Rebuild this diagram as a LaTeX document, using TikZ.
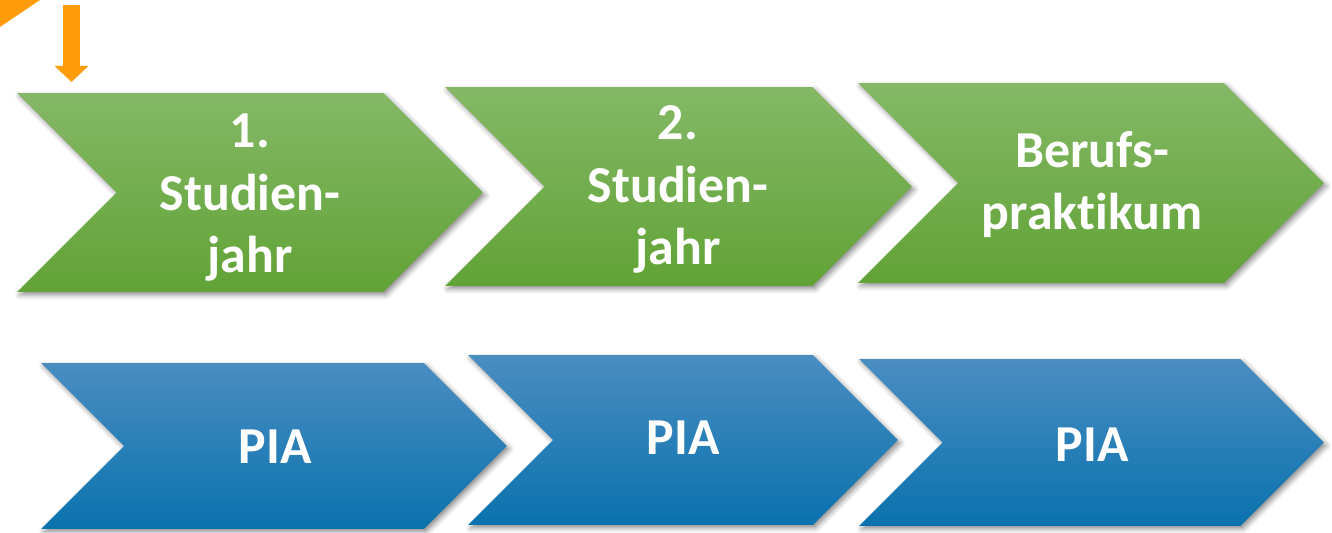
\documentclass[tikz,border=0pt]{standalone}
\usepackage{fontspec}
\setmainfont{Carlito}[Ligatures=NoCommon]
\usepackage{tikz}
\usetikzlibrary{shapes.symbols, arrows.meta, shadows.blur}

\definecolor{gruenOben}{HTML}{84B866}
\definecolor{gruenUnten}{HTML}{61A336}
\definecolor{blauOben}{HTML}{4A8DC1}
\definecolor{blauMitte}{HTML}{1384BF}
\definecolor{blauUnten}{HTML}{0A72AE}
\definecolor{pfeilOrange}{HTML}{FF9C0A}

\tikzset{
  phase/.style={signal, signal to=east, signal from=west, inner sep=0pt,
    blur shadow={shadow xshift=.05cm, shadow yshift=-.06cm,
      shadow blur radius=.1cm, shadow opacity=45}},
  gruen/.style={phase, top color=gruenOben, bottom color=gruenUnten},
  blau/.style={phase, top color=blauOben, middle color=blauMitte, bottom color=blauUnten},
  beschriftung/.style={anchor=base, align=center, text=white,
    font=\fontsize{29.5pt}{35.6pt}\selectfont\bfseries},
}

\begin{document}
\begin{tikzpicture}[x=0.02cm, y=-0.02cm]
  \useasboundingbox (0,0) rectangle (1332,533);

  % Ecke oben links
  \fill[pfeilOrange] (0,0) -- (40,0) -- (0,27) -- cycle;

  % obere Reihe
  \node[gruen, minimum width=9.32cm, minimum height=3.98cm] (jahr1) at (250,192.5) {};
  \node[gruen, minimum width=9.34cm, minimum height=3.98cm] (jahr2) at (678.5,186.5) {};
  \node[gruen, minimum width=9.32cm, minimum height=4cm] (praktikum) at (1091,183) {};

  % untere Reihe
  \node[blau, minimum width=9.32cm, minimum height=3.32cm] (pia1) at (274,446) {};
  \node[blau, minimum width=8.6cm, minimum height=3.4cm] (pia2) at (683,440) {};
  \node[blau, minimum width=9.3cm, minimum height=3.34cm] (pia3) at (1091.5,442.5) {};

  % Texte (base = letzte Zeile)
  \node[beschriftung] (tjahr1) at (250,273) {1.\\Studien-\\jahr};
  \node[beschriftung] (tjahr2) at (678,265) {2.\\Studien-\\jahr};
  \node[beschriftung] (tpraktikum) at (1092,230) {Berufs-\\praktikum};
  \node[beschriftung] (tpia1) at (275,463) {PIA};
  \node[beschriftung] (tpia2) at (683,455) {PIA};
  \node[beschriftung] (tpia3) at (1092,461) {PIA};

  % Pfeil auf das erste Jahr
  \coordinate (pfeilstart) at (71.5,5);
  \coordinate (pfeilende) at (71.5,82);
  \draw[pfeilOrange, line width=0.34cm, -{Triangle[width=0.66cm, length=0.32cm]}]
    (pfeilstart) -- (pfeilende);
\end{tikzpicture}
\end{document}
